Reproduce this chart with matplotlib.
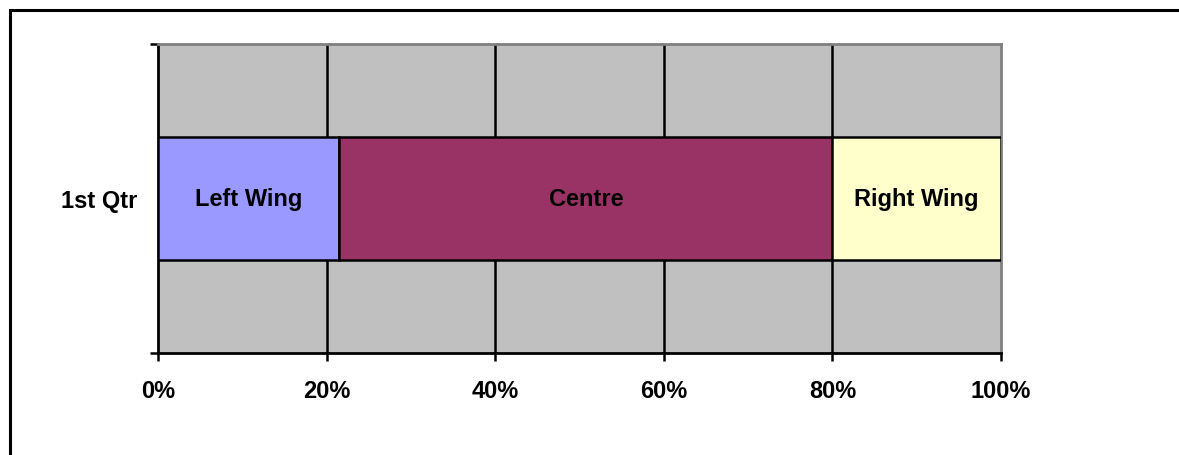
import matplotlib
matplotlib.use("Agg")
import matplotlib.pyplot as plt
from matplotlib.patches import Rectangle
from matplotlib.ticker import FixedLocator, PercentFormatter

plt.rcParams["font.family"] = ["Liberation Sans", "DejaVu Sans"]
plt.rcParams["font.weight"] = "bold"

# data
category = "1st Qtr"
series = ["Left Wing", "Centre", "Right Wing"]
shares = [21.5, 58.5, 20.0]
colors = ["#9999FF", "#993366", "#FFFFCC"]
xticks = [0, 20, 40, 60, 80, 100]

fig = plt.figure(figsize=(11.79, 4.56), dpi=100)
ax = fig.add_axes([158/1179, 1 - 354/456, (1001-158)/1179, (354-45)/456])
ax.set_facecolor("#C0C0C0")

# outer frame (left, top, right runs off the page)
fig.patches.append(Rectangle((10/1179, -0.1), 1.1, 1 - 11/456 + 0.1,
                             transform=fig.transFigure, fill=False,
                             edgecolor="black", linewidth=2.2, clip_on=False))

left = 0
for name, val, col in zip(series, shares, colors):
    ax.barh(0.5, val, left=left, height=0.4, color=col, edgecolor="black",
            linewidth=1.8, zorder=3)
    ax.text(left + val / 2, 0.5, name, ha="center", va="center",
            fontsize=17, fontweight="bold", color="black", zorder=4)
    left += val

for x in xticks[1:-1]:
    ax.axvline(x, color="black", linewidth=1.8, zorder=1)

ax.set_xlim(0, 100)
ax.set_ylim(0, 1)
ax.set_xticks(xticks)
ax.xaxis.set_major_formatter(PercentFormatter(decimals=0))
ax.tick_params(axis="x", length=6, width=1.8, pad=13, labelsize=17)

ax.set_yticks([0, 1])
ax.set_yticklabels([])
ax.tick_params(axis="y", which="major", length=6, width=1.8)
ax.yaxis.set_minor_locator(FixedLocator([0.5]))
ax.set_yticklabels([category], minor=True)
ax.tick_params(axis="y", which="minor", length=0, pad=15, labelsize=17)

for lab in ax.get_xticklabels() + ax.get_yticklabels(minor=True):
    lab.set_fontweight("bold")

ax.spines["left"].set_linewidth(2)
ax.spines["bottom"].set_linewidth(2)
ax.spines["top"].set_color("#808080")
ax.spines["right"].set_color("#808080")
ax.spines["top"].set_linewidth(2)
ax.spines["right"].set_linewidth(2)

fig.savefig("out.png", dpi=100)
